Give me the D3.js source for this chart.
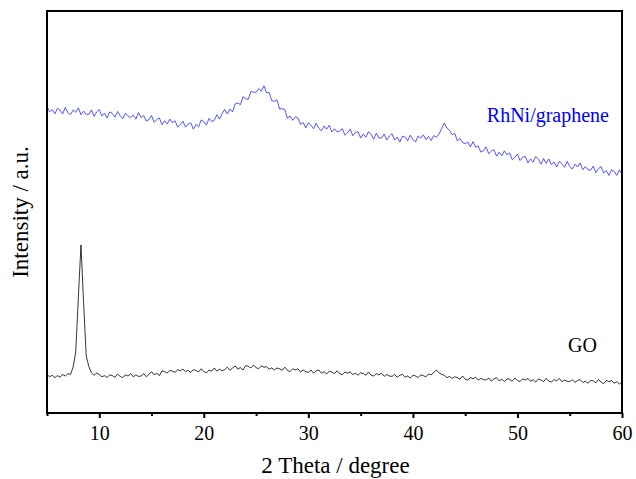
<!DOCTYPE html>
<html><head><meta charset="utf-8">
<script src="https://cdn.jsdelivr.net/npm/d3@7"></script>
<style>body{margin:0;background:#fff}svg{display:block}text{font-family:"Liberation Serif","Times New Roman",serif}</style>
</head><body><svg id="c" width="636" height="479"></svg>
<script>
// 2θ grid: 5° to 60° in 0.25° steps
const thetaStart = 5, thetaStep = 0.25;
const xTicks = [10, 20, 30, 40, 50, 60];
const xMinorTicks = [5, 15, 25, 35, 45, 55];
const seriesNames = ["RhNi/graphene", "GO"];
const rhniValues = [
76.2,74.9,75.5,74.4, 75.8,75.3,74.4,76.0, 74.7,74.2,75.4,74.8, 75.9,74.2,75.1,74.3,
74.3,75.4,73.8,74.9, 75.5,73.9,74.6,73.4, 74.9,74.5,73.6,75.0, 74.0,73.2,74.6,73.9,
73.5,74.1,73.1,74.7, 73.5,74.0,72.6,73.0, 74.0,72.3,73.0,73.4, 71.7,72.7,71.9,73.1,
72.2,72.7,71.1,71.7, 72.6,71.1,71.9,72.2, 70.6,71.8,71.2,72.9, 72.5,71.6,73.3,72.5,
72.8,74.2,73.1,74.5, 75.5,74.4,75.6,74.9, 76.9,77.1,76.7,78.7, 78.2,78.0,80.0,79.8,
79.8,80.7,80.0,81.4, 79.7,79.7,77.7,77.5, 77.9,75.6,75.7,75.5, 73.3,73.9,72.8,73.7,
73.4,71.8,72.3,70.9, 72.2,71.6,70.7,72.1, 70.8,70.2,71.4,70.6, 71.6,69.9,70.7,69.9,
70.2,70.7,69.1,69.7, 70.6,69.0,69.8,70.0, 68.4,69.4,68.6,70.0, 69.3,68.1,69.6,68.4,
68.4,69.4,67.9,68.9, 69.5,67.9,68.6,67.4, 68.9,68.6,67.7,69.1, 68.1,67.4,68.9,68.4,
69.2,68.0,68.8,67.8, 69.0,68.6,69.4,70.8, 72.1,70.9,70.3,69.2, 69.6,67.7,68.3,67.3,
67.0,67.4,66.2,67.5, 66.1,66.4,64.9,65.2, 66.2,64.5,65.1,65.5, 63.9,64.9,64.0,65.2,
64.2,64.7,63.0,63.6, 64.4,62.8,63.6,63.8, 62.2,63.2,62.4,63.8, 63.1,61.9,63.3,62.1,
63.2,61.8,62.4,61.2, 62.6,62.0,61.1,62.6, 61.3,60.7,61.9,61.2, 62.2,60.5,61.3,60.5,
60.4,61.4,59.8,60.8, 61.3,59.7,60.3,59.1, 60.5,60.1,59.1,60.5, 59.4];
const goValues = [
9.6,9.0,9.4,8.8, 9.3,8.9,9.6,9.2, 9.8,9.6,11.4,15.2, 28.9,41.8,27.5,14.2,
11.6,10.0,9.4,9.9, 9.6,9.0,9.3,8.8, 9.5,9.3,8.9,9.7, 9.1,8.8,9.5,9.2,
9.8,9.0,9.5,9.1, 9.2,9.8,9.0,9.6, 10.3,9.5,9.9,9.3, 10.5,10.3,9.9,10.6,
10.4,10.1,10.8,10.5, 10.9,10.3,10.6,10.1, 10.8,10.6,10.2,11.0, 10.3,10.0,10.7,10.4,
11.2,10.4,10.9,10.5, 10.8,11.4,10.6,11.2, 11.7,10.9,11.3,10.7, 11.8,11.6,11.2,11.9,
11.3,11.0,11.7,11.4, 11.5,10.9,11.2,10.7, 11.2,11.0,10.6,11.4, 10.6,10.3,11.0,10.7,
11.0,10.2,10.7,10.3, 10.1,10.7,9.9,10.5, 10.7,9.9,10.3,9.7, 10.4,10.2,9.8,10.5,
9.8,9.5,10.2,9.9, 10.2,9.6,9.9,9.4, 10.0,9.8,9.4,10.2, 9.4,9.2,9.8,9.5,
9.9,9.1,9.6,9.2, 9.1,9.6,8.9,9.4, 9.6,8.9,9.2,8.7, 9.4,9.2,8.8,9.5,
9.3,9.0,9.7,9.5, 10.1,10.7,10.0,9.6, 9.4,8.8,9.1,8.6, 9.0,8.8,8.4,9.2,
8.4,8.2,8.8,8.5, 8.9,8.2,8.6,8.3, 8.2,8.7,7.9,8.5, 8.8,8.0,8.4,7.8,
8.5,8.4,7.9,8.7, 8.1,7.8,8.5,8.2, 8.6,7.9,8.3,7.7, 8.5,8.2,7.8,8.6,
7.9,7.7,8.3,8.0, 8.6,7.8,8.2,7.9, 7.8,8.3,7.6,8.1, 8.3,7.6,7.9,7.4,
8.1,8.0,7.5,8.3, 7.7,7.3,8.1,7.8, 8.1,7.4,7.8,7.2, 7.7];

const svg = d3.select("#c");
const m = {l: 47, r: 622, t: 11, b: 413};
const x = d3.scaleLinear().domain([5, 60]).range([m.l, m.r]);
const y = d3.scaleLinear().domain([0, 100]).range([m.b, m.t]);

const toPts = vals => vals.map((v, i) => [thetaStart + i * thetaStep, v]);
const line = d3.line().x(d => x(d[0])).y(d => y(d[1]));

svg.append("path").attr("d", line(toPts(rhniValues)))
  .attr("fill", "none").attr("stroke", "#2a2aff").attr("stroke-width", 0.8);
svg.append("path").attr("d", line(toPts(goValues)))
  .attr("fill", "none").attr("stroke", "#000").attr("stroke-width", 0.8);

// frame
svg.append("rect").attr("x", m.l).attr("y", m.t).attr("width", m.r - m.l).attr("height", m.b - m.t)
  .attr("fill", "none").attr("stroke", "#000").attr("stroke-width", 2);

// x axis
const ax = svg.append("g").attr("transform", `translate(0,${m.b})`)
  .call(d3.axisBottom(x).tickValues(xTicks).tickSize(5).tickPadding(8).tickFormat(d3.format("d")));
ax.select(".domain").remove();
ax.selectAll("line").attr("stroke-width", 2);
ax.selectAll("text").attr("font-size", 20).attr("fill", "#000").style("font-family", '"Liberation Serif",serif');
const axm = svg.append("g").attr("transform", `translate(0,${m.b})`)
  .call(d3.axisBottom(x).tickValues(xMinorTicks).tickSize(3).tickFormat(""));
axm.select(".domain").remove();
axm.selectAll("line").attr("stroke-width", 2);

svg.append("text").attr("x", (m.l + m.r) / 2 + 1).attr("y", 473).attr("text-anchor", "middle")
  .attr("font-size", 23).text("2 Theta / degree");
svg.append("text").attr("transform", `translate(28,${(m.t + m.b) / 2}) rotate(-90)`)
  .attr("text-anchor", "middle").attr("font-size", 23).text("Intensity / a.u.");

svg.append("text").attr("x", 609).attr("y", 122).attr("text-anchor", "end")
  .attr("font-size", 20).attr("fill", "#0000ff").text(seriesNames[0]);
svg.append("text").attr("x", 597).attr("y", 352).attr("text-anchor", "end")
  .attr("font-size", 20).attr("fill", "#000").text(seriesNames[1]);
</script></body></html>
